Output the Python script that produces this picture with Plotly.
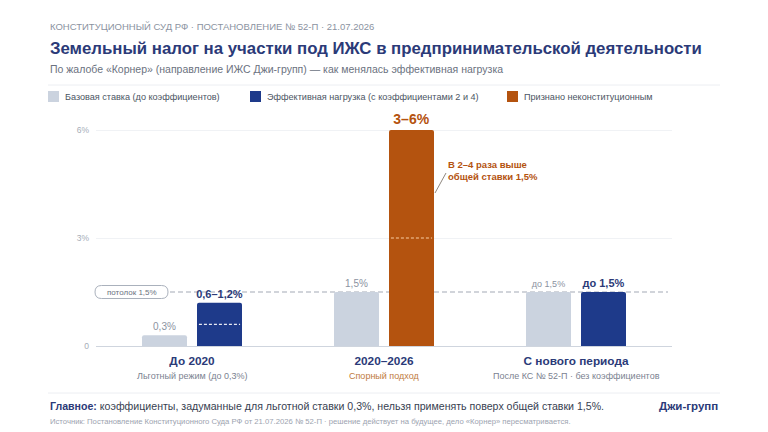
import plotly.graph_objects as go

# ---------------- data ----------------
categories = ["До 2020", "2020–2026", "С нового периода"]
cat_titles = ["До 2020", "2020–2026", "С нового периода"]
cat_subtitles = ["Льготный режим (до 0,3%)", "Спорный подход", "После КС № 52-П · без коэффициентов"]

base_rate = [0.3, 1.5, 1.5]
base_labels = ["0,3%", "1,5%", "до 1,5%"]

effective_high = [1.2, None, 1.5]
effective_low = [0.6, None, None]
effective_labels = ["0,6–1,2%", "", "до 1,5%"]

unconst_high = [None, 6.0, None]
unconst_low = [None, 3.0, None]
unconst_labels = ["", "3–6%", ""]

ceiling = 1.5
y_ticks = [0, 3, 6]
y_ticktext = ["0", "3%", "6%"]

# ---------------- style ----------------
W, H = 768, 432
ML, MR, MT, MB = 96, 96, 112, 86
PW, PH = W - ML - MR, H - MT - MB

def px(x):
    return (x - ML) / PW

def py(y):
    return (H - MB - y) / PH

FONT = "Liberation Sans, Arial, sans-serif"
NARROW = "Liberation Sans Narrow, Arial Narrow, Liberation Sans, sans-serif"
NAVY = "#1e3a8a"
NAVY_T = "#2b3a78"
ORANGE = "#b4530f"
GRAYBAR = "#cbd3df"
GRAYTXT = "#8b93a1"

BW = 45 / 192
OFF_L = -50 / 192
OFF_R = 5 / 192

fig = go.Figure()

fig.add_trace(go.Bar(
    x=categories, y=base_rate, name="Базовая ставка (до коэффициентов)",
    marker=dict(color=GRAYBAR, line=dict(width=0)),
    width=BW, offset=OFF_L,
    text=base_labels, textposition="outside", constraintext="none", cliponaxis=False,
    textfont=dict(family=FONT, size=[10, 10, 9], color=GRAYTXT),
    showlegend=False, hoverinfo="skip",
))
fig.add_trace(go.Bar(
    x=categories, y=effective_high, name="Эффективная нагрузка (с коэффициентами 2 и 4)",
    marker=dict(color=NAVY, line=dict(width=0)),
    width=BW, offset=OFF_R,
    text=["<b>%s</b>" % t if t else "" for t in effective_labels],
    textposition="outside", constraintext="none", cliponaxis=False,
    textfont=dict(family=FONT, size=11, color=NAVY_T),
    showlegend=False, hoverinfo="skip",
))
fig.add_trace(go.Bar(
    x=categories, y=unconst_high, name="Признано неконституционным",
    marker=dict(color=ORANGE, line=dict(width=0)),
    width=BW, offset=OFF_R,
    text=["<b>%s</b>" % t if t else "" for t in unconst_labels],
    textposition="outside", constraintext="none", cliponaxis=False,
    textfont=dict(family=FONT, size=14, color=ORANGE),
    showlegend=False, hoverinfo="skip",
))

shapes = []
annotations = []

# lower bound dashes inside bars
for i, lo in enumerate(effective_low):
    if lo is not None:
        shapes.append(dict(type="line", xref="x", yref="y", x0=i + OFF_R + 0.01, x1=i + OFF_R + BW - 0.01,
                           y0=lo, y1=lo, line=dict(color="rgba(255,255,255,0.9)", width=1.2, dash="3px,2px"),
                           layer="above"))
for i, lo in enumerate(unconst_low):
    if lo is not None:
        shapes.append(dict(type="line", xref="x", yref="y", x0=i + OFF_R + 0.01, x1=i + OFF_R + BW - 0.01,
                           y0=lo, y1=lo, line=dict(color="rgba(255,220,180,0.9)", width=1.2, dash="3px,2px"),
                           layer="above"))

# ceiling line
shapes.append(dict(type="line", xref="paper", yref="y", x0=px(170), x1=px(668), y0=ceiling, y1=ceiling,
                   line=dict(color="#a3aab6", width=1.2, dash="5px,3px"), layer="below"))
# ceiling pill
pill = ("M -30,-6.5 L 30,-6.5 Q 36.5,-6.5 36.5,0 Q 36.5,6.5 30,6.5 "
        "L -30,6.5 Q -36.5,6.5 -36.5,0 Q -36.5,-6.5 -30,-6.5 Z")
shapes.append(dict(type="path", xref="paper", yref="y", xsizemode="pixel", ysizemode="pixel",
                   xanchor=px(131.5), yanchor=ceiling, path=pill,
                   line=dict(color="#aab1bc", width=1), fillcolor="white", layer="above"))
annotations.append(dict(xref="paper", yref="y", x=px(131.5), y=ceiling, text="потолок 1,5%",
                        showarrow=False, font=dict(family=FONT, size=8, color="#6b7280"),
                        xanchor="center", yanchor="middle"))

# orange note
annotations.append(dict(xref="paper", yref="y", x=px(446), y=(346 - 170) / 36,
                        text="<b>В 2–4 раза выше<br>общей ставки 1,5%</b>", showarrow=False,
                        align="left", xanchor="left", yanchor="middle",
                        font=dict(family=FONT, size=9.5, color=ORANGE)))
shapes.append(dict(type="line", xref="paper", yref="y", x0=px(446), x1=px(435),
                   y0=(346 - 173) / 36, y1=(346 - 193) / 36,
                   line=dict(color="#8f8880", width=1)))

# separators
for yy in (85, 393):
    shapes.append(dict(type="line", xref="paper", yref="paper", x0=px(48), x1=px(720), y0=py(yy), y1=py(yy),
                       line=dict(color="#eceef2", width=1)))

# header texts
def txt(x, y, text, size, color, family=FONT, xanchor="left"):
    annotations.append(dict(xref="paper", yref="paper", x=px(x), y=py(y), text=text, showarrow=False,
                            xanchor=xanchor, yanchor="middle", font=dict(family=family, size=size, color=color)))

txt(48, 27, "КОНСТИТУЦИОННЫЙ СУД РФ · ПОСТАНОВЛЕНИЕ № 52-П · 21.07.2026", 9.5, "#8b93a1", NARROW)
txt(48, 48, "<b>Земельный налог на участки под ИЖС в предпринимательской деятельности</b>", 16.8, NAVY_T)
txt(48, 69, "По жалобе «Корнер» (направление ИЖС Джи-групп) — как менялась эффективная нагрузка", 10.5, "#6b7280", NARROW)

# legend (manual)
legend_items = [("Базовая ставка (до коэффициентов)", GRAYBAR, 48),
                ("Эффективная нагрузка (с коэффициентами 2 и 4)", NAVY, 250),
                ("Признано неконституционным", ORANGE, 507)]
for label, col, x0 in legend_items:
    shapes.append(dict(type="rect", xref="paper", yref="paper", x0=px(x0), x1=px(x0 + 11),
                       y0=py(102), y1=py(91), fillcolor=col, line=dict(width=0)))
    txt(x0 + 15, 96.5, label, 9.1, "#4b5563")

# category subtitles
sub_colors = ["#7b8290", "#c07a3e", "#7b8290"]
for i, (s, c) in enumerate(zip(cat_subtitles, sub_colors)):
    annotations.append(dict(xref="x", yref="paper", x=categories[i], y=py(376), text=s, showarrow=False,
                            xanchor="center", yanchor="middle", font=dict(family=NARROW, size=9, color=c)))

# footer
txt(48, 406, "<span style='color:%s'><b>Главное:</b></span> коэффициенты, задуманные для льготной ставки 0,3%%, "
             "нельзя применять поверх общей ставки 1,5%%." % NAVY_T, 10.6, "#374151", NARROW)
txt(720, 406, "<b>Джи-групп</b>", 11.5, NAVY_T, FONT, xanchor="right")
txt(48, 421, "Источник: Постановление Конституционного Суда РФ от 21.07.2026 № 52-П · решение действует на будущее, "
             "дело «Корнер» пересматривается.", 7.7, "#9ca3af", NARROW)

fig.update_layout(
    width=W, height=H, margin=dict(l=ML, r=MR, t=MT, b=MB, pad=0),
    paper_bgcolor="white", plot_bgcolor="white",
    barmode="overlay", barcornerradius=2,
    font=dict(family=FONT),
    shapes=shapes, annotations=annotations,
    showlegend=False,
    xaxis=dict(type="category", categoryorder="array", categoryarray=categories,
               tickvals=categories, ticktext=["<b>%s</b>" % t for t in cat_titles],
               tickfont=dict(family=FONT, size=11.8, color=NAVY_T),
               showline=True, linecolor="#cfd5de", linewidth=1.2, ticks="", showgrid=False,
               ticklabelstandoff=4, range=[-0.5, 2.5], fixedrange=True),
    yaxis=dict(range=[0, 6.5], tickvals=y_ticks, ticktext=y_ticktext,
               tickfont=dict(family=FONT, size=8.5, color="#a6adb8"),
               showgrid=True, gridcolor="#f0f2f5", gridwidth=1, zeroline=False,
               showline=False, ticks="", ticklabelstandoff=6, fixedrange=True),
)

fig.write_html("out.html")
